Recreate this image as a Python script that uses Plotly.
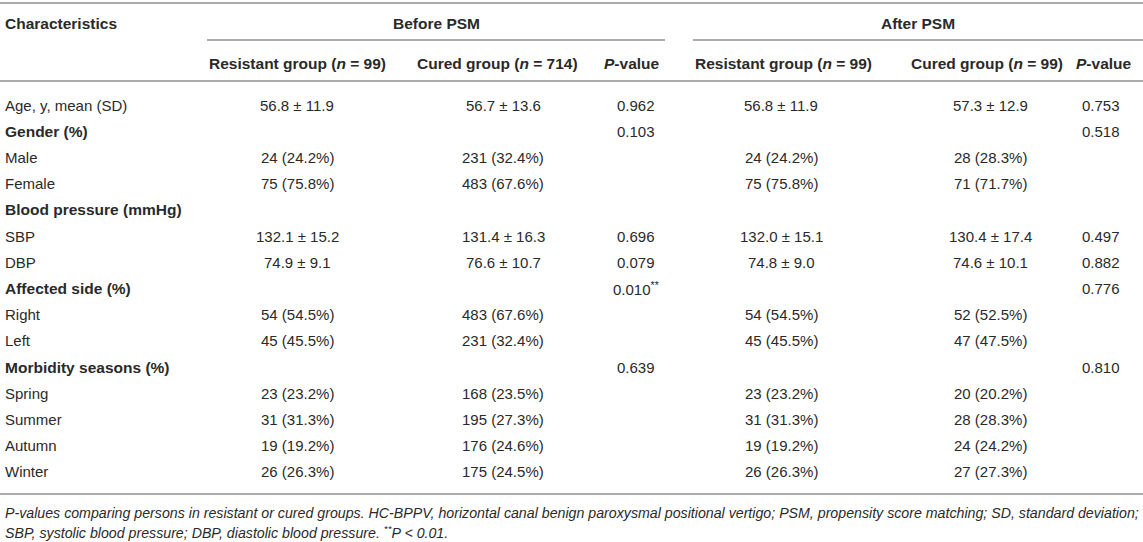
import plotly.graph_objects as go

# Table content
characteristics = [
    "Age, y, mean (SD)", "Gender (%)", "Male", "Female", "Blood pressure (mmHg)",
    "SBP", "DBP", "Affected side (%)", "Right", "Left", "Morbidity seasons (%)",
    "Spring", "Summer", "Autumn", "Winter",
]
group_rows = ["Gender (%)", "Blood pressure (mmHg)", "Affected side (%)", "Morbidity seasons (%)"]

before_resistant = ["56.8 ± 11.9", "", "24 (24.2%)", "75 (75.8%)", "", "132.1 ± 15.2", "74.9 ± 9.1",
                    "", "54 (54.5%)", "45 (45.5%)", "", "23 (23.2%)", "31 (31.3%)", "19 (19.2%)", "26 (26.3%)"]
before_cured = ["56.7 ± 13.6", "", "231 (32.4%)", "483 (67.6%)", "", "131.4 ± 16.3", "76.6 ± 10.7",
                "", "483 (67.6%)", "231 (32.4%)", "", "168 (23.5%)", "195 (27.3%)", "176 (24.6%)", "175 (24.5%)"]
before_p = ["0.962", "0.103", "", "", "", "0.696", "0.079", "0.010<sup>**</sup>", "", "", "0.639",
            "", "", "", ""]
after_resistant = ["56.8 ± 11.9", "", "24 (24.2%)", "75 (75.8%)", "", "132.0 ± 15.1", "74.8 ± 9.0",
                   "", "54 (54.5%)", "45 (45.5%)", "", "23 (23.2%)", "31 (31.3%)", "19 (19.2%)", "26 (26.3%)"]
after_cured = ["57.3 ± 12.9", "", "28 (28.3%)", "71 (71.7%)", "", "130.4 ± 17.4", "74.6 ± 10.1",
               "", "52 (52.5%)", "47 (47.5%)", "", "20 (20.2%)", "28 (28.3%)", "24 (24.2%)", "27 (27.3%)"]
after_p = ["0.753", "0.518", "", "", "", "0.497", "0.882", "0.776", "", "", "0.810", "", "", "", ""]

sub_headers = ["Resistant group (<i>n</i> = 99)", "Cured group (<i>n</i> = 714)", "<i>P</i>-value",
               "Resistant group (<i>n</i> = 99)", "Cured group (<i>n</i> = 99)", "<i>P</i>-value"]
footnote = [
    "<i>P-values comparing persons in resistant or cured groups. HC-BPPV, horizontal canal benign "
    "paroxysmal positional vertigo; PSM, propensity score matching; SD, standard deviation;</i>",
    "<i>SBP, systolic blood pressure; DBP, diastolic blood pressure. <sup>**</sup>P &lt; 0.01.</i>",
]

# layout helpers (pixel space)
W, H = 1143, 542
header_x = [297, 497, 632, 783, 987, 1104]
value_x = [297, 503, 636, 781, 990, 1101]
first_row_y = 105
row_h = 26.2
font = "Liberation Sans, Arial, Helvetica, sans-serif"
txt_color = "#2a2a2a"
line_color = "#ababab"

fig = go.Figure()
ann = []

def add_text(x, y, text, anchor="center", size=15, bold=False):
    if bold:
        text = "<b>" + text + "</b>"
    ann.append(dict(x=x, y=y, text=text, xref="x", yref="y", showarrow=False,
                    xanchor=anchor, yanchor="middle", borderpad=0,
                    font=dict(family=font, size=size, color=txt_color)))

# headers
add_text(4, 23, "Characteristics", anchor="left", size=15.5, bold=True)
add_text(436, 23, "Before PSM", size=15.5, bold=True)
add_text(918, 23, "After PSM", size=15.5, bold=True)
for hx, h in zip(header_x, sub_headers):
    add_text(hx, 63, h, size=15.5, bold=True)

# body
columns = [before_resistant, before_cured, before_p, after_resistant, after_cured, after_p]
for i, name in enumerate(characteristics):
    y = first_row_y + i * row_h
    add_text(4, y, name, anchor="left", size=15.5 if name in group_rows else 15,
             bold=name in group_rows)
    for vx, col in zip(value_x, columns):
        if col[i]:
            add_text(vx, y, col[i])

# footnote
add_text(4, 513, footnote[0], anchor="left", size=14.2)
add_text(4, 532, footnote[1], anchor="left", size=14.2)

# rules
shapes = [
    dict(type="line", x0=0, x1=W, y0=3, y1=3),
    dict(type="line", x0=207, x1=665, y0=40, y1=40),
    dict(type="line", x0=693, x1=W, y0=40, y1=40),
    dict(type="line", x0=0, x1=W, y0=81, y1=81),
    dict(type="line", x0=0, x1=W, y0=494, y1=494),
]
for s in shapes:
    s.update(xref="x", yref="y", line=dict(color=line_color, width=2))

fig.update_layout(
    width=W, height=H,
    margin=dict(l=0, r=0, t=0, b=0),
    plot_bgcolor="white", paper_bgcolor="white",
    xaxis=dict(range=[0, W], visible=False, fixedrange=True),
    yaxis=dict(range=[H, 0], visible=False, fixedrange=True),
    annotations=ann, shapes=shapes, showlegend=False,
)

# page body has a default margin, remove it so the table sits at 0,0
fig.write_html("out.html", config={"displayModeBar": False},
               post_script="document.body.style.margin='0';")
